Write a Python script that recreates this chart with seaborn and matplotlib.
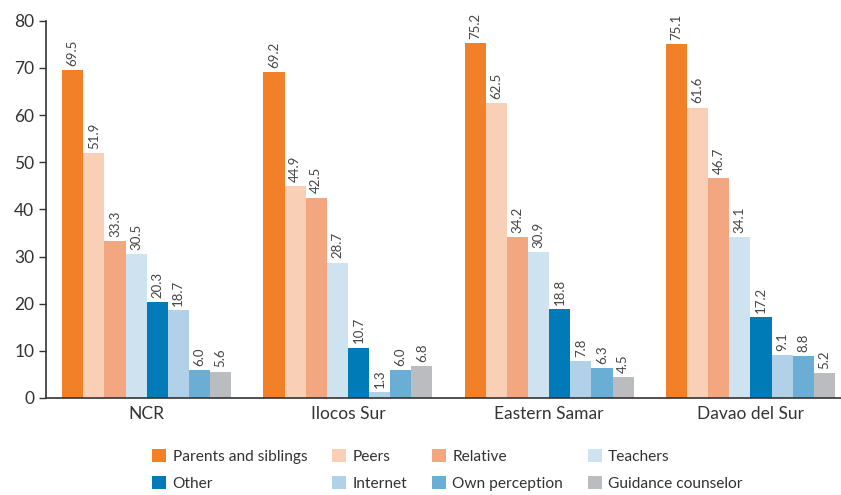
import pandas as pd
import matplotlib.pyplot as plt
import seaborn as sns

regions = ["NCR", "Ilocos Sur", "Eastern Samar", "Davao del Sur"]
sources = ["Parents and siblings", "Peers", "Relative", "Teachers",
           "Other", "Internet", "Own perception", "Guidance counselor"]

# values per region, in the order of sources
ncr = [69.5, 51.9, 33.3, 30.5, 20.3, 18.7, 6.0, 5.6]
ilocos = [69.2, 44.9, 42.5, 28.7, 10.7, 1.3, 6.0, 6.8]
samar = [75.2, 62.5, 34.2, 30.9, 18.8, 7.8, 6.3, 4.5]
davao = [75.1, 61.6, 46.7, 34.1, 17.2, 9.1, 8.8, 5.2]

colors = ["#F28029", "#F9CFB5", "#F3A781", "#CFE2F0",
          "#007BB8", "#B0D1E8", "#6AAED6", "#BBBCBF"]

rows = []
for reg, vals in zip(regions, [ncr, ilocos, samar, davao]):
    for src, v in zip(sources, vals):
        rows.append({"region": reg, "source": src, "value": v})
df = pd.DataFrame(rows)

sns.set_style("white")
plt.rcParams['font.family'] = ['Lato', 'DejaVu Sans']

fig = plt.figure(figsize=(8.41, 4.95), dpi=100)
ax = fig.add_axes([0.0547, 0.196, 0.9453, 0.762])

sns.barplot(data=df, x="region", y="value", hue="source", hue_order=sources,
            palette=colors, width=0.84, saturation=1, linewidth=0,
            legend=True, ax=ax)

for cont in ax.containers:
    ax.bar_label(cont, fmt="%.1f", rotation=90, padding=3, fontsize=9.5, color="#444444")

ax.set_ylim(0, 80)
ax.set_yticks(range(0, 81, 10))
ax.set_xlim(-0.5, 3.45)
ax.set_xlabel("")
ax.set_ylabel("")
ax.tick_params(axis="y", length=5, width=1, color="#333333", labelsize=12.5, labelcolor="#333333", left=True)
ax.tick_params(axis="x", length=0, labelsize=12.5, labelcolor="#333333", pad=6)
for s in ["top", "right"]:
    ax.spines[s].set_visible(False)
for s in ["left", "bottom"]:
    ax.spines[s].set_color("#333333")
    ax.spines[s].set_linewidth(1.2)

handles, labels = ax.get_legend_handles_labels()
ax.get_legend().remove()
# legend fills column-wise, so put the 2nd row items right after their column head
order = [0, 4, 1, 5, 2, 6, 3, 7]
leg = fig.legend([handles[i] for i in order], [labels[i] for i in order],
                 loc="center", bbox_to_anchor=(0.532, 0.05), ncol=4, frameon=False,
                 fontsize=11.2, handlelength=0.9, handleheight=0.9,
                 handletextpad=0.4, columnspacing=1.6, labelspacing=0.8)
for t in leg.get_texts():
    t.set_color("#333333")

fig.savefig("out.png", dpi=100)
